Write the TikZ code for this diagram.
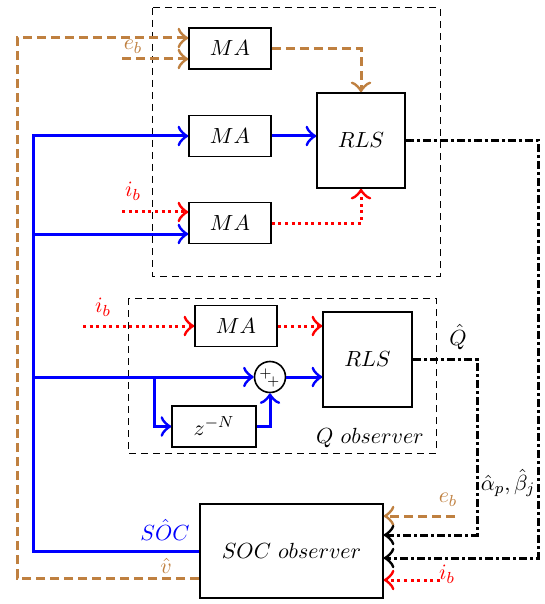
\documentclass[tikz,border=0pt]{standalone}
\usepackage{amsmath,amssymb}
\usepackage{tikz}
\usepackage{xcolor}
\usetikzlibrary{positioning,arrows.meta}

\begin{document}
\begin{tikzpicture}[x=0.5pt, y=-0.5pt,
  >={Classical TikZ Rightarrow[scale=1.35]},
  every node/.style={font=\fontsize{11}{13}\selectfont},
  blk/.style={draw, line width=0.8pt, minimum width=41pt, minimum height=20.5pt, inner sep=0pt},
  frame/.style={draw, line width=0.5pt, dash pattern=on 3.5pt off 2.5pt},
  bl/.style={->, blue, line width=1.5pt},
  brn/.style={->, brown, line width=1.5pt, dash pattern=on 4.5pt off 2.5pt},
  rd/.style={->, red, line width=1.5pt, dash pattern=on 1.5pt off 1.8pt},
  bk/.style={->, black, line width=1.5pt, dash pattern=on 4pt off 1.5pt on 1.5pt off 1.5pt}]
  \useasboundingbox (0,0) rectangle (545,604);
  % frames
  \draw[frame] (152,8) rectangle (440,276);
  \draw[frame] (128,298) rectangle (436,453);
  % blocks
  \node[blk] (ma1) at (230,48.5) {$MA$};
  \node[blk] (ma2) at (230,136) {$MA$};
  \node[blk] (ma3) at (230,223) {$MA$};
  \node[blk, minimum width=44pt, minimum height=47.5pt] (rls1) at (361,140.5) {$RLS$};
  \node[blk] (ma4) at (236,326) {$MA$};
  \node[blk, minimum width=44.5pt, minimum height=47.5pt] (rls2) at (367.5,359.5) {$RLS$};
  \node[blk, minimum width=42pt] (zn) at (214,426.5) {$z^{-N}$};
  \node[draw, circle, line width=0.8pt, minimum size=15.5pt, inner sep=0pt] (sum) at (270,377) {};
  \node[font=\scriptsize, inner sep=0pt] (pa) at ([xshift=-2.3pt,yshift=1.6pt]sum.center) {$+$};
  \node[font=\scriptsize, inner sep=0pt] (pb) at ([xshift=1.6pt,yshift=-2.3pt]sum.center) {$+$};
  \node[blk, minimum width=91.5pt, minimum height=47pt] (soc) at (291.5,551) {$SOC\ observer$};
  \node (qobs) at (370,438) {$Q\ observer$};
  % free ends
  \coordinate (bustop) at (33,136);
  \coordinate (bus3) at (33,234);
  \coordinate (bus4) at (33,377);
  \coordinate (brz) at (154,377);
  \coordinate (vcorner) at (17,38);
  \coordinate (eb1) at (122,59);
  \coordinate (eb2) at (455,516);
  \coordinate (ib1) at (122,212);
  \coordinate (ib2) at (83,326);
  \coordinate (ib3) at (440,580);
  \coordinate (rcorner) at (538,558);
  \coordinate (qcorner) at (477,535);
  % blue
  \draw[bl] (soc.west) -| (bustop) -- (ma2.west);
  \draw[bl] (bus3) -- ([yshift=-5.5pt]ma3.west);
  \draw[bl] (bus4) -- (sum.west);
  \draw[bl] (ma2.east) -- (ma2.east -| rls1.west);
  \draw[bl] (sum.east) -- (sum.east -| rls2.west);
  \draw[bl] (brz) |- (zn.west);
  \draw[bl] (zn.east) -| (sum.south);
  % brown
  \draw[brn] (ma1.east) -| (rls1.north);
  \draw[brn] ([yshift=-13.5pt]soc.west) -| (vcorner) -- ([yshift=5.25pt]ma1.west);
  \draw[brn] (eb1) -- ([yshift=-5.25pt]ma1.west);
  \draw[brn] (eb2) -- (eb2 -| soc.east);
  % red
  \draw[rd] (ib1) -- ([yshift=5.5pt]ma3.west);
  \draw[rd] (ma3.east) -| (rls1.south);
  \draw[rd] (ib2) -- (ma4.west);
  \draw[rd] (ma4.east) -- (ma4.east -| rls2.west);
  \draw[rd] (ib3) -- (ib3 -| soc.east);
  % black
  \draw[bk] (rls1.east) -| (rcorner) -- (rcorner -| soc.east);
  \draw[bk] (rls2.east) -| (qcorner) -- (qcorner -| soc.east);
  % labels
  \node[brown] (leb1) at (133,47) {$e_b$};
  \node[brown] (leb2) at (448,500) {$e_b$};
  \node[brown] (lv) at (166,566) {$\hat{v}$};
  \node[red] (lib1) at (133,191) {$i_b$};
  \node[red] (lib2) at (103,307) {$i_b$};
  \node[red] (lib3) at (447,574) {$i_b$};
  \node[blue] (lsoc) at (165,530) {$S\hat{O}C$};
  \node (lq) at (458,337) {$\hat{Q}$};
  \node[inner sep=1pt] (lab) at (508,483) {$\hat{\alpha}_p,\hat{\beta}_j$};
\end{tikzpicture}
\end{document}
